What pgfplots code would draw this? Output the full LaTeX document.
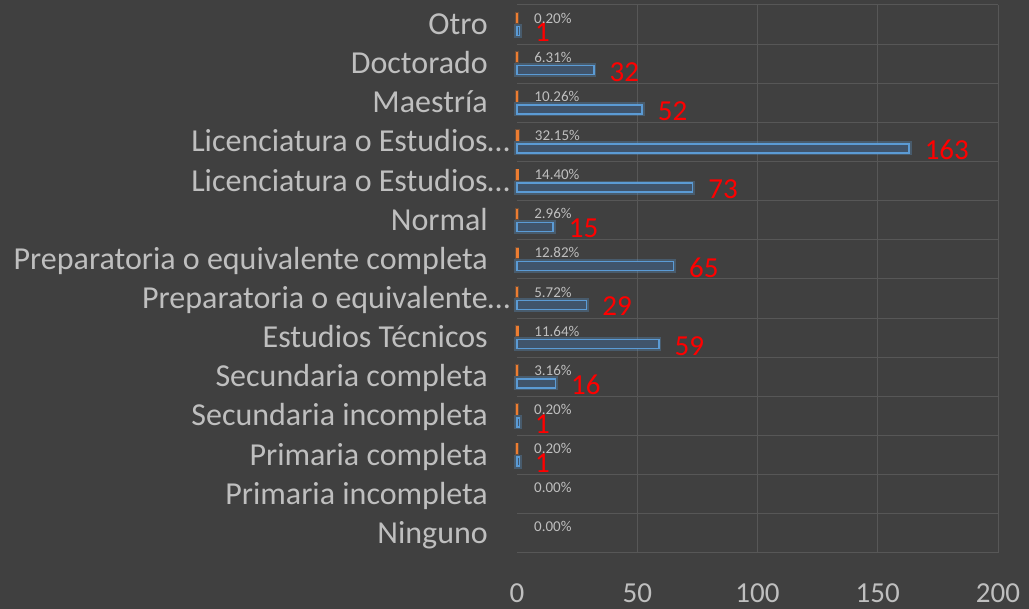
\documentclass[border=0pt]{standalone}
\usepackage{fontspec}
\setmainfont{Carlito}
\usepackage{pgfplots}
\usepackage{pgfplotstable}
\pgfplotsset{compat=1.18}

\definecolor{bgcol}{HTML}{404040}
\definecolor{gridcol}{HTML}{575757}
\definecolor{txtcol}{HTML}{BFBFBF}
\definecolor{barblue}{HTML}{5B9BD5}
\definecolor{barfill}{RGB}{64,84,107}
\definecolor{barorange}{HTML}{ED7D31}

% y: 13 = top row (Otro), 0 = bottom row (Ninguno)
\pgfplotstableread{
y  n    frac    p
13 1    0.0020  0.20
12 32   0.0631  6.31
11 52   0.1026  10.26
10 163  0.3215  32.15
9  73   0.1440  14.40
8  15   0.0296  2.96
7  65   0.1282  12.82
6  29   0.0572  5.72
5  59   0.1164  11.64
4  16   0.0316  3.16
3  1    0.0020  0.20
2  1    0.0020  0.20
}\nonzero
\pgfplotstableread{
y  frac    p
13 0.0020  0.20
12 0.0631  6.31
11 0.1026  10.26
10 0.3215  32.15
9  0.1440  14.40
8  0.0296  2.96
7  0.1282  12.82
6  0.0572  5.72
5  0.1164  11.64
4  0.0316  3.16
3  0.0020  0.20
2  0.0020  0.20
1  0       0.00
0  0       0.00
}\pcts

\begin{document}
\begin{tikzpicture}
\fill[bgcol] (0,0) rectangle (1029pt,609pt);
\begin{axis}[
  at={(517pt,56pt)}, anchor=south west,
  scale only axis, width=481pt, height=548pt,
  xbar, clip=false,
  xmin=0, xmax=200, ymin=-0.5, ymax=13.5,
  axis line style={draw=none},
  major tick length=0pt, minor tick length=0pt,
  xtick={50,100,150,200},
  extra x ticks={0}, extra x tick style={grid=none},
  xmajorgrids, grid style={gridcol, line width=1pt},
  ytick={0,...,13},
  minor ytick={-0.5,0.5,...,13.5}, yminorgrids,
  minor grid style={gridcol, line width=1pt},
  yticklabels={Ninguno, Primaria incompleta, Primaria completa, Secundaria incompleta,
    Secundaria completa, Estudios Técnicos, Preparatoria o equivalente\rlap{…},
    Preparatoria o equivalente completa, Normal, Licenciatura o Estudios\rlap{…},
    Licenciatura o Estudios\rlap{…}, Maestría, Doctorado, Otro},
  /pgf/number format/assume math mode=true,
  ticklabel style={text=txtcol, inner sep=0pt},
  xticklabel style={anchor=center, yshift=-40pt, font=\fontsize{29}{31}\selectfont},
  yticklabel style={anchor=base east, xshift=-29pt, yshift=-10pt, font=\fontsize{32}{34}\selectfont},
]
% glow
\addplot[bar width=9pt, bar shift=-6.5pt, draw=barblue, draw opacity=0.3, line width=5pt, fill=none]
  table[x=n, y=y] {\nonzero};
\addplot[bar width=8pt, bar shift=6.5pt, draw=barorange, draw opacity=0.25, line width=4pt, fill=none]
  table[x=frac, y=y] {\nonzero};
% orange (percent) bars
\addplot[bar width=8pt, bar shift=6.5pt, draw=barorange, fill=barorange, line width=2.5pt]
  table[x=frac, y=y] {\nonzero};
% blue (count) bars
\addplot[bar width=9pt, bar shift=-6.5pt, draw=barblue, fill=barfill, line width=1.5pt,
  nodes near coords, every node near coord/.append style={anchor=west, inner sep=0pt,
    xshift=15pt, yshift=-1.5pt, text=red, font=\fontsize{29}{31}\selectfont}]
  table[x=n, y=y] {\nonzero};
% percent labels
\addplot[bar width=8pt, bar shift=6.5pt, draw=none, fill=none,
  point meta=explicit,
  nodes near coords={\pgfmathprintnumber[fixed,fixed zerofill,precision=2]{\pgfplotspointmeta}\%},
  every node near coord/.append style={anchor=west, inner sep=0pt, xshift=17pt,
    text=txtcol, font=\fontsize{15}{17}\selectfont}]
  table[x=frac, y=y, meta=p] {\pcts};
\end{axis}
\pgfresetboundingbox
\path[use as bounding box] (0,0) rectangle (1029pt,609pt);
\end{tikzpicture}
\end{document}
